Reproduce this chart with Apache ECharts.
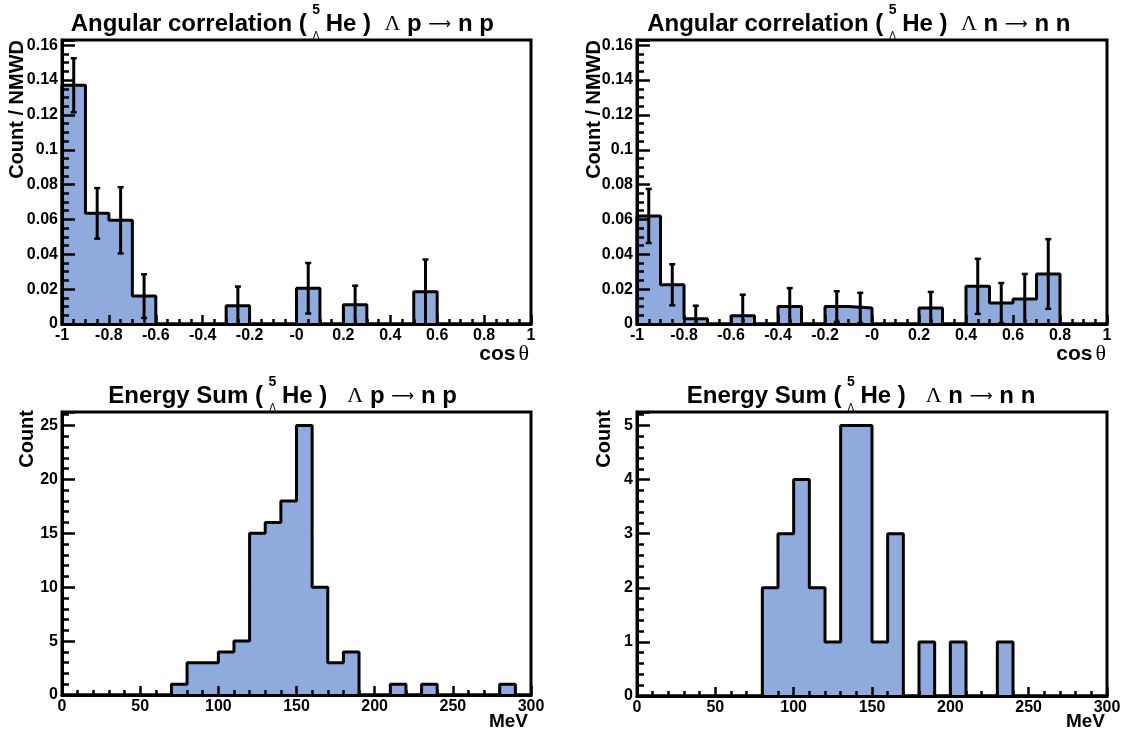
<!DOCTYPE html>
<html><head><meta charset="utf-8">
<script src="https://cdn.jsdelivr.net/npm/echarts@6/dist/echarts.min.js"></script>
<style>html,body{margin:0;padding:0;background:#fff}#c{width:1130px;height:737px}</style>
</head><body><div id="c"></div>
<script>
// ---------------- data ----------------
const angBinLow = [-1.0,-0.9,-0.8,-0.7,-0.6,-0.5,-0.4,-0.3,-0.2,-0.1,0.0,0.1,0.2,0.3,0.4,0.5,0.6,0.7,0.8,0.9];
const angBinWidth = 0.1;
// Lambda p -> n p  (Count / NMWD)
const angNpValues = [0.137,0.0635,0.0595,0.016,0,0,0,0.0105,0,0,0.0205,0,0.011,0,0,0.0185,0,0,0,0];
const angNpErrors = [0.0155,0.0145,0.019,0.0125,0,0,0,0.011,0,0,0.0145,0,0.011,0,0,0.0185,0,0,0,0];
// Lambda n -> n n  (Count / NMWD)
const angNnValues = [0.062,0.0225,0.003,0,0.0048,0,0.01,0,0.01,0.0092,0,0,0.0092,0,0.0216,0.012,0.0143,0.0287,0,0];
const angNnErrors = [0.0155,0.0118,0.0075,0,0.012,0,0.0106,0,0.0088,0.0087,0,0,0.0092,0,0.0158,0.0115,0.0144,0.020,0,0];

const eBinLow = [0,10,20,30,40,50,60,70,80,90,100,110,120,130,140,150,160,170,180,190,200,210,220,230,240,250,260,270,280,290];
const eBinWidth = 10;
const eNpCounts = [0,0,0,0,0,0,0,1,3,3,4,5,15,16,18,25,10,3,4,0,0,1,0,1,0,0,0,0,1,0];
const eNnCounts = [0,0,0,0,0,0,0,0,2,3,4,2,1,5,5,1,3,0,1,0,1,0,0,1,0,0,0,0,0,0];

const panelTitles = [
  {left:'Angular correlation', reac:['p','n','p'], gap:'  '},
  {left:'Angular correlation', reac:['n','n','n'], gap:'  '},
  {left:'Energy Sum', reac:['p','n','p'], gap:'   '},
  {left:'Energy Sum', reac:['n','n','n'], gap:'   '}
];
const yTitles = ['Count / NMWD','Count / NMWD','Count','Count'];
const xTitles = ['cos','cos','MeV','MeV'];

// ---------------- styling ----------------
const FILL = '#8FAADC';
const SANS = '"Liberation Sans", Arial, sans-serif';
const SERIF = '"Liberation Serif", "Times New Roman", serif';

const mctx = document.createElement('canvas').getContext('2d');
function tw(text, font){ mctx.font = font; return mctx.measureText(text).width; }

function stepData(lows, width, vals){
  const pts = [[lows[0], 0]];
  for (let i = 0; i < lows.length; i++) pts.push([lows[i], vals[i]]);
  const end = lows[lows.length-1] + width;
  pts.push([end, vals[vals.length-1]]);
  pts.push([end, 0]);
  return pts;
}
function errData(lows, width, vals, errs){
  const d = [];
  for (let i = 0; i < lows.length; i++) if (errs[i] > 0) d.push([lows[i] + width/2, vals[i], errs[i]]);
  return d;
}

const grids = [
  {left:62, right:599, top:40, bottom:413},
  {left:637, right:23, top:40, bottom:413},
  {left:62, right:599, top:412, bottom:42},
  {left:637, right:23, top:412, bottom:41}
].map(g => Object.assign({show:true, borderColor:'#000', borderWidth:3, backgroundColor:'transparent', containLabel:false}, g));

const labelStyle = {color:'#000', fontFamily:SANS, fontWeight:'bold', fontSize:16};
function xAxisCfg(i, min, max, interval, minorSplit, fmt){
  return {gridIndex:i, type:'value', min, max, interval, z:10,
    axisLine:{show:true, onZero:false, lineStyle:{color:'#000', width:3}},
    axisTick:{show:true, inside:true, length:9, lineStyle:{color:'#000', width:2.5}},
    minorTick:{show:true, splitNumber:minorSplit, length:5, lineStyle:{color:'#000', width:2.5}},
    splitLine:{show:false},
    axisLabel:Object.assign({margin:4, formatter:fmt}, labelStyle)};
}
function yAxisCfg(i, max, interval, minorSplit){
  return {gridIndex:i, type:'value', min:0, max, interval, z:10,
    axisLine:{show:true, onZero:false, lineStyle:{color:'#000', width:3}},
    axisTick:{show:true, inside:true, length:13, lineStyle:{color:'#000', width:2.5}},
    minorTick:{show:true, splitNumber:minorSplit, length:7, lineStyle:{color:'#000', width:2.5}},
    splitLine:{show:false},
    axisLabel:Object.assign({margin:4, showMaxLabel:false}, labelStyle)};
}
const cosFmt = v => { const r = parseFloat(v.toFixed(1)); return Math.abs(r) < 1e-9 ? '-0' : String(r); };
const eFmt = v => String(Math.round(v));

function histSeries(i, lows, width, vals){
  return {type:'line', xAxisIndex:i, yAxisIndex:i, step:'end', symbol:'none', clip:false, z:2,
    data: stepData(lows, width, vals),
    lineStyle:{color:'#000', width:3},
    areaStyle:{color:FILL, opacity:1}};
}
function errSeries(i, lows, width, vals, errs){
  return {type:'custom', xAxisIndex:i, yAxisIndex:i, z:4, clip:false,
    data: errData(lows, width, vals, errs),
    renderItem: function(params, api){
      const x = api.value(0), v = api.value(1), e = api.value(2);
      const lo = Math.max(v - e, 0);
      const pTop = api.coord([x, v + e]);
      const pBot = api.coord([x, lo]);
      const c = 3;
      const ch = [
        {type:'line', shape:{x1:pTop[0], y1:pTop[1], x2:pBot[0], y2:pBot[1]}, style:{stroke:'#000', lineWidth:3}},
        {type:'line', shape:{x1:pTop[0]-c, y1:pTop[1], x2:pTop[0]+c, y2:pTop[1]}, style:{stroke:'#000', lineWidth:2.5}}
      ];
      if (v - e > 0) ch.push({type:'line', shape:{x1:pBot[0]-c, y1:pBot[1], x2:pBot[0]+c, y2:pBot[1]}, style:{stroke:'#000', lineWidth:2.5}});
      return {type:'group', children:ch};
    }};
}

// ---------------- text graphics ----------------
const B24 = 'bold 24px ' + SANS;
const ARR = '16px "DejaVu Sans", sans-serif';
const S22 = '22px ' + SERIF;
function titleGroup(cx, cy, t){
  const parts = [
    {text: t.left + ' (', font: B24},
    {stack: true, w: 19},
    {text: 'He )' + t.gap, font: B24},
    {text: 'Λ', font: S22},
    {text: ' ' + t.reac[0] + ' ', font: B24},
    {text: '⟶', font: ARR, dy: 1},
    {text: ' ' + t.reac[1] + ' ' + t.reac[2], font: B24}
  ];
  let total = 0;
  parts.forEach(p => { p.w = p.stack ? p.w : tw(p.text, p.font); total += p.w; });
  let x = cx - total/2;
  const els = [];
  parts.forEach(p => {
    if (p.stack){
      els.push({type:'text', x: x + p.w/2, y: cy - 13.5, style:{text:'5', font:'bold 14px ' + SANS, fill:'#000', align:'center', verticalAlign:'middle'}});
      els.push({type:'text', x: x + p.w/2, y: cy + 12.5, style:{text:'Λ', font:'10px ' + SANS, fill:'#000', align:'center', verticalAlign:'middle'}});
    } else {
      els.push({type:'text', x: x, y: cy + (p.dy || 0), style:{text:p.text, font:p.font, fill:'#000', align:'left', verticalAlign:'middle'}});
    }
    x += p.w;
  });
  return els;
}

const titlePos = [[282.3, 24], [858.8, 24], [282.6, 396], [861, 396]];
const yTitlePos = [[17.5, 40], [594.6, 40], [27.6, 410], [604, 410]];
const xTitlePos = [[529, 354], [1106, 354], [528, 722], [1105, 722]];

let graphics = [];
for (let i = 0; i < 4; i++){
  graphics = graphics.concat(titleGroup(titlePos[i][0], titlePos[i][1], panelTitles[i]));
  graphics.push({type:'text', x:yTitlePos[i][0], y:yTitlePos[i][1], rotation:Math.PI/2,
    style:{text:yTitles[i], font:'bold 20px ' + SANS, fill:'#000', align:'right', verticalAlign:'middle'}});
  if (xTitles[i] === 'cos'){
    const thFont = '22px ' + SERIF;
    const thW = tw('θ', thFont);
    graphics.push({type:'text', x:xTitlePos[i][0], y:xTitlePos[i][1], style:{text:'θ', font:thFont, fill:'#000', align:'right', verticalAlign:'middle'}});
    graphics.push({type:'text', x:xTitlePos[i][0] - thW - 3, y:xTitlePos[i][1], style:{text:'cos', font:'bold 21px ' + SANS, fill:'#000', align:'right', verticalAlign:'middle'}});
  } else {
    graphics.push({type:'text', x:xTitlePos[i][0], y:xTitlePos[i][1], style:{text:xTitles[i], font:'bold 19px ' + SANS, fill:'#000', align:'right', verticalAlign:'middle'}});
  }
}

const option = {
  animation:false,
  backgroundColor:'#fff',
  grid: grids,
  xAxis: [
    xAxisCfg(0, -1, 1, 0.2, 4, cosFmt),
    xAxisCfg(1, -1, 1, 0.2, 4, cosFmt),
    xAxisCfg(2, 0, 300, 50, 5, eFmt),
    xAxisCfg(3, 0, 300, 50, 5, eFmt)
  ],
  yAxis: [
    yAxisCfg(0, 0.163, 0.02, 4),
    yAxisCfg(1, 0.163, 0.02, 4),
    yAxisCfg(2, 26.25, 5, 5),
    yAxisCfg(3, 5.25, 1, 5)
  ],
  series: [
    histSeries(0, angBinLow, angBinWidth, angNpValues),
    errSeries(0, angBinLow, angBinWidth, angNpValues, angNpErrors),
    histSeries(1, angBinLow, angBinWidth, angNnValues),
    errSeries(1, angBinLow, angBinWidth, angNnValues, angNnErrors),
    histSeries(2, eBinLow, eBinWidth, eNpCounts),
    histSeries(3, eBinLow, eBinWidth, eNnCounts)
  ],
  graphic: graphics
};
const chart = echarts.init(document.getElementById('c'), null, {renderer:'canvas'});
chart.setOption(option);
</script></body></html>
